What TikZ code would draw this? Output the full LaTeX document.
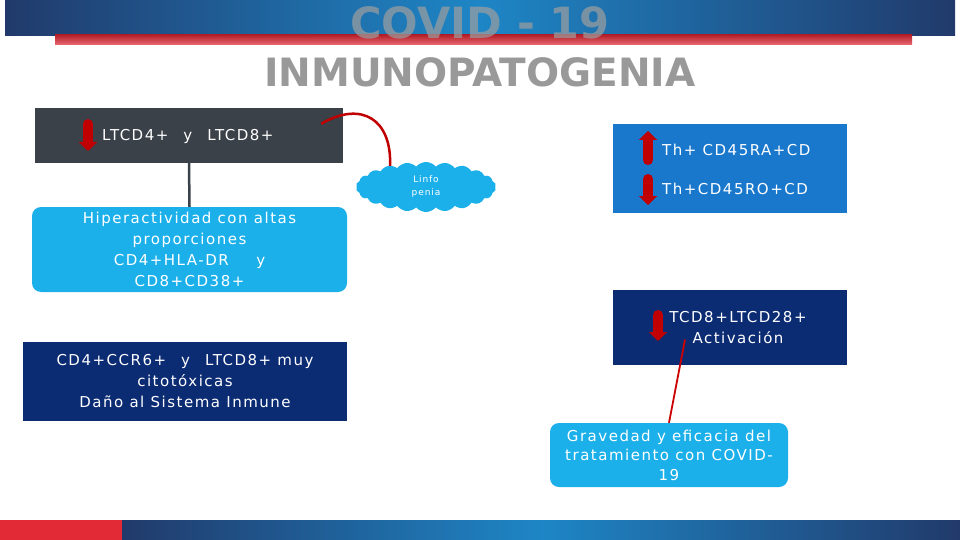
\documentclass[tikz,border=0pt]{standalone}
\usepackage{fontspec}
\setmainfont{DejaVu Sans}[LetterSpace=10]
\newfontfamily\titlefont{DejaVu Sans}
\usetikzlibrary{shapes.symbols,arrows.meta,calc}
\definecolor{navy}{HTML}{0B2B73}
\definecolor{lblue}{HTML}{1CB0EA}
\definecolor{mblue}{HTML}{1A78CC}
\definecolor{slate}{HTML}{3A4149}
\definecolor{bannerdark}{HTML}{213A6B}
\definecolor{bannerlight}{HTML}{1E86C6}
\definecolor{redbar}{HTML}{E22A36}
\definecolor{iconred}{HTML}{C00000}
\tikzset{
  box/.style={draw=none, text=white, align=center, inner sep=2pt, font=\fontsize{15}{21}\selectfont},
  icon/.style={draw=iconred, line width=10pt, line cap=round, -{Triangle[width=18pt,length=9pt]}},
  redline/.style={draw=iconred, line width=2.5pt},
}
\begin{document}
\begin{tikzpicture}[x=1pt,y=-1pt]
\useasboundingbox (0,0) rectangle (960,540);
% banners
\shade[left color=bannerdark, right color=bannerdark, middle color=bannerlight] (5,0) rectangle (955,36);
\shade[top color=redbar!80!black, bottom color=redbar!70!white] (55,35) rectangle (912,45);
\fill[redbar] (0,520) rectangle (122,540);
\shade[left color=bannerdark, right color=bannerdark, middle color=bannerlight] (122,520) rectangle (960,540);
\node[text=gray!75, opacity=0.7, font=\titlefont\bfseries\fontsize{43}{46}\selectfont] (t1) at (480,23) {COVID - 19};
\node[text=gray!80, font=\titlefont\bfseries\fontsize{39}{42}\selectfont] (t2) at (480,72) {INMUNOPATOGENIA};

% boxes
\node[box, fill=slate, minimum width=308pt, minimum height=55pt] (A) at (189,135.5) {};
\node[box, anchor=west] (Atext) at (100,136) {LTCD4+\quad y\quad LTCD8+};
\draw[icon] (88,124) -- (88,151);

\node[box, fill=lblue, rounded corners=9pt, minimum width=315pt, minimum height=85pt] (B) at (189.5,249.5)
  {Hiperactividad con altas\\proporciones\\CD4+HLA-DR\quad\ \ y\\CD8+CD38+};

\node[cloud, cloud puffs=22, cloud puff arc=100, aspect=3, fill=lblue, draw=none, minimum width=140pt, minimum height=50pt, inner sep=0pt, text=white, align=center, font=\fontsize{9}{13}\selectfont] (cl) at (426,187) {Linfo\\penia};

\node[box, fill=navy, minimum width=324pt, minimum height=79pt] (C) at (185,381.5)
  {CD4+CCR6+\quad y\quad LTCD8+ muy\\citotóxicas\\Daño al Sistema Inmune};

\node[box, fill=mblue, minimum width=234pt, minimum height=89pt] (D) at (730,168.5) {};
\node[box, anchor=west] (Dt1) at (660,150) {Th+ CD45RA+CD};
\node[box, anchor=west] (Dt2) at (660,189) {Th+CD45RO+CD};
\draw[icon] (648,160) -- (648,131);
\draw[icon] (648,179) -- (648,205);

\node[box, fill=navy, minimum width=234pt, minimum height=75pt] (E) at (730,327.5) {};
\node[box] (Et) at (738,328) {TCD8+LTCD28+\\Activación};
\draw[icon] (658,315) -- (658,341);

\node[box, fill=lblue, rounded corners=9pt, minimum width=238pt, minimum height=64pt, font=\fontsize{15}{19.5}\selectfont] (F) at (669,455)
  {Gravedad y eficacia del\\tratamiento con COVID-\\19};

% connectors
\draw[slate, line width=2.5pt] (A.south) -- (B.north);
\draw[redline] ($(A.north east)+(-22,16)$) .. controls (362,100) and (392,120) .. ($(cl.north)+(-36,4)$);
\draw[draw=red!80!black, line width=1.8pt] ($(E.center)+(-45,12)$) -- (F.north);
\end{tikzpicture}
\end{document}
